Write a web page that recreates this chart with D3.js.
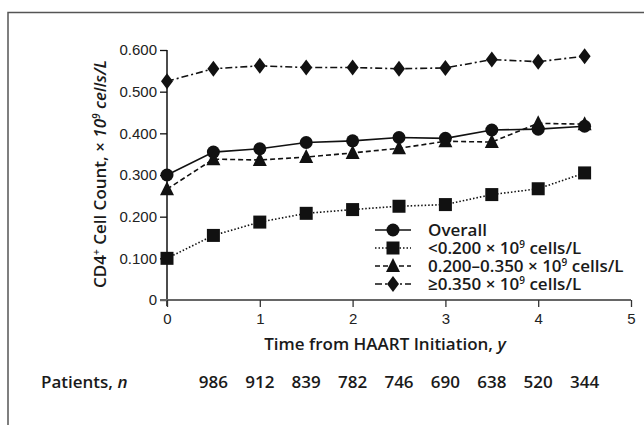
<!DOCTYPE html>
<html lang="en">
<head>
    <meta charset="UTF-8">
    <title>CD4+ Cell Count</title>
    <script src="https://d3js.org/d3.v7.min.js"></script>
    <style>
        body { margin: 0; background: #fff; }
        svg { display: block; font-family: "Open Sans", "Noto Sans", sans-serif; }
        .tick text { font-size: 15px; fill: #222; }
        .lbl { font-size: 17px; font-weight: 600; fill: #1a1a1a; }
    </style>
</head>
<body>
    <svg width="644" height="425"></svg>
    <script>
        // time points (years since HAART start)
        const times = [0, 0.5, 1, 1.5, 2, 2.5, 3, 3.5, 4, 4.5];
        const overall = [0.300, 0.355, 0.363, 0.378, 0.382, 0.390, 0.388, 0.408, 0.410, 0.417];
        const low = [0.100, 0.155, 0.187, 0.208, 0.217, 0.225, 0.229, 0.253, 0.267, 0.305];
        const mid = [0.266, 0.338, 0.336, 0.343, 0.353, 0.364, 0.381, 0.379, 0.424, 0.422];
        const high = [0.525, 0.555, 0.562, 0.558, 0.558, 0.555, 0.557, 0.577, 0.572, 0.585];
        const yTicks = [0, 0.1, 0.2, 0.3, 0.4, 0.5, 0.6];
        const xTicks = [0, 1, 2, 3, 4, 5];
        const nTimes = [0.5, 1, 1.5, 2, 2.5, 3, 3.5, 4, 4.5];
        const patients = [986, 912, 839, 782, 746, 690, 638, 520, 344];

        // legend names: [before, superscript, after]
        const series = [
            {name: ["Overall", "", ""], values: overall, marker: "circle", dash: null},
            {name: ["<0.200 × 10", "9", " cells/L"], values: low, marker: "square", dash: "1.5,2"},
            {name: ["0.200–0.350 × 10", "9", " cells/L"], values: mid, marker: "triangle", dash: "5,3"},
            {name: ["≥0.350 × 10", "9", " cells/L"], values: high, marker: "diamond", dash: "7,3,2,3"}
        ];

        const svg = d3.select("svg");

        // frame
        svg.append("path")
            .attr("d", "M8,425V12.5H644")
            .attr("fill", "none").attr("stroke", "#555").attr("stroke-width", 1.5);

        const x = d3.scaleLinear().domain([0, 5]).range([167, 631]);
        const y = d3.scaleLinear().domain([0, 0.6]).range([300, 50]);

        const yAxis = svg.append("g")
            .attr("transform", "translate(167,0)")
            .call(d3.axisLeft(y).tickValues(yTicks).tickSize(7).tickPadding(3)
                .tickFormat(d => d === 0 ? "0" : d3.format(".3f")(d)));
        yAxis.select(".domain").attr("d", "M0,50V306").attr("stroke", "#111").attr("stroke-width", 1.5);
        yAxis.selectAll(".tick line").attr("stroke", "#111").attr("stroke-width", 1.3);

        const xAxis = svg.append("g")
            .attr("transform", "translate(0,300)")
            .call(d3.axisBottom(x).tickValues(xTicks).tickSize(7).tickPadding(4).tickFormat(d3.format("d")));
        xAxis.select(".domain").attr("d", "M160,0H631").attr("stroke", "#666").attr("stroke-width", 2);
        xAxis.selectAll(".tick line").attr("stroke", "#333").attr("stroke-width", 1.3);
        xAxis.selectAll(".tick text").attr("dy", "0.85em");

        function marker(sel, type) {
            if (type === "circle") {
                sel.append("circle").attr("r", 6.5);
            } else if (type === "square") {
                sel.append("rect").attr("x", -6.5).attr("y", -6.5).attr("width", 13).attr("height", 13);
            } else if (type === "triangle") {
                sel.append("path").attr("d", "M0,-8L7,6H-7Z");
            } else {
                sel.append("path").attr("d", "M0,-8L6,0L0,8L-6,0Z");
            }
        }

        const line = d3.line().x((d, i) => x(times[i])).y(d => y(d));

        series.forEach(s => {
            svg.append("path")
                .attr("d", line(s.values))
                .attr("fill", "none").attr("stroke", "#111").attr("stroke-width", 1.6)
                .attr("stroke-dasharray", s.dash);
            s.values.forEach((v, i) => {
                const g = svg.append("g")
                    .attr("transform", `translate(${x(times[i])},${y(v)})`)
                    .attr("fill", "#111");
                marker(g, s.marker);
            });
        });

        // legend
        const leg = svg.append("g");
        series.forEach((s, i) => {
            const ly = 230 + i * 18;
            leg.append("line").attr("x1", 375).attr("x2", 411).attr("y1", ly).attr("y2", ly)
                .attr("stroke", "#111").attr("stroke-width", 1.6).attr("stroke-dasharray", s.dash);
            const g = leg.append("g").attr("transform", `translate(393,${ly})`).attr("fill", "#111");
            marker(g, s.marker);
            const t = leg.append("text").attr("class", "lbl").attr("font-size", "15.5px")
                .attr("x", 428).attr("y", ly + 5.5);
            t.append("tspan").text(s.name[0]);
            if (s.name[1]) {
                t.append("tspan").attr("font-size", "10px").attr("dy", -6).text(s.name[1]);
                t.append("tspan").attr("dy", 6).text(s.name[2]);
            }
        });

        // axis titles
        const xt = svg.append("text").attr("class", "lbl").attr("x", 385).attr("y", 344)
            .attr("text-anchor", "middle").attr("dy", "0.35em");
        xt.append("tspan").text("Time from HAART Initiation, ");
        xt.append("tspan").attr("font-style", "italic").text("y");

        const yt = svg.append("text").attr("class", "lbl").attr("font-size", "15.5px")
            .attr("transform", "translate(100,174) rotate(-90)")
            .attr("text-anchor", "middle").attr("dy", "0.35em");
        yt.append("tspan").text("CD4");
        yt.append("tspan").attr("font-size", "10px").attr("dy", -6).text("+");
        yt.append("tspan").attr("dy", 6).text(" Cell Count, × ");
        yt.append("tspan").attr("font-style", "italic").text("10");
        yt.append("tspan").attr("font-style", "italic").attr("font-size", "10px").attr("dy", -6).text("9");
        yt.append("tspan").attr("font-style", "italic").attr("dy", 6).text(" cells/L");

        // patients at risk
        const pt = svg.append("text").attr("class", "lbl").attr("x", 41).attr("y", 382).attr("dy", "0.35em");
        pt.append("tspan").text("Patients, ");
        pt.append("tspan").attr("font-style", "italic").text("n");
        svg.append("g").selectAll("text")
            .data(patients)
            .join("text")
            .attr("class", "lbl")
            .attr("x", (d, i) => x(nTimes[i]))
            .attr("y", 382).attr("dy", "0.35em")
            .attr("text-anchor", "middle")
            .text(d => d);
    </script>
</body>
</html>
